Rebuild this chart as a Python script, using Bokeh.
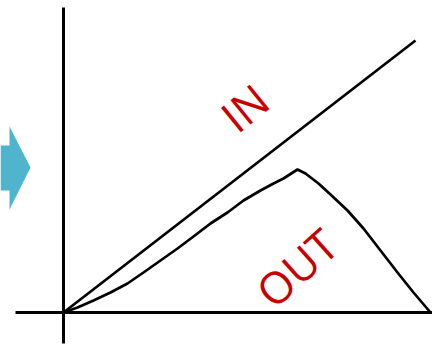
import math
from bokeh.plotting import figure
from bokeh.models import Range1d
from bokeh.core.properties import value
from bokeh.embed import file_html
from bokeh.resources import INLINE

# --- data (chart units, origin at the axes crossing) ---
in_x = [0, 352]
in_y = [0, 272]

out_x = [0, 14, 30, 47, 64, 80, 97, 114, 130, 147, 164, 180, 197, 210, 220, 227, 234,
         242, 255, 267, 284, 300, 317, 334, 350, 367]
out_y = [0, 5, 12, 20, 29, 40, 52, 64, 76, 89, 100, 112, 122, 129, 134, 138.5, 143,
         139, 129, 118, 102, 84, 62, 40, 20, 0]

arrow_x = [-63, -54, -54, -33, -54, -54, -63]
arrow_y = [167, 167, 186, 145, 103, 122, 122]

labels = ["IN", "OUT"]
label_x = [181, 233]
label_y = [205, 45]
label_angle = [39, 42]

p = figure(width=432, height=345, x_range=Range1d(-63, 369), y_range=Range1d(-33, 312),
           output_backend="svg", toolbar_location=None, min_border=0)
p.axis.visible = False
p.grid.visible = False
p.outline_line_color = None

# axes
p.line([0, 0], [-31, 305], line_color="black", line_width=3)
p.line([-48, 369], [0, 0], line_color="black", line_width=3)

# arrow
p.patch(arrow_x, arrow_y, fill_color="#4FB4CD", line_color=None)

# curves
p.line(in_x, in_y, line_color="black", line_width=2.7)
p.line(out_x, out_y, line_color="black", line_width=2.7, line_join="round")

for t, x, y, a in zip(labels, label_x, label_y, label_angle):
    p.text([x], [y], text=[t], angle=math.radians(a),
           text_color="#C80000", text_font=value("Open Sans"),
           text_font_size="44px", text_align="center", text_baseline="middle")

open("out.html", "w").write(file_html(p, INLINE))
